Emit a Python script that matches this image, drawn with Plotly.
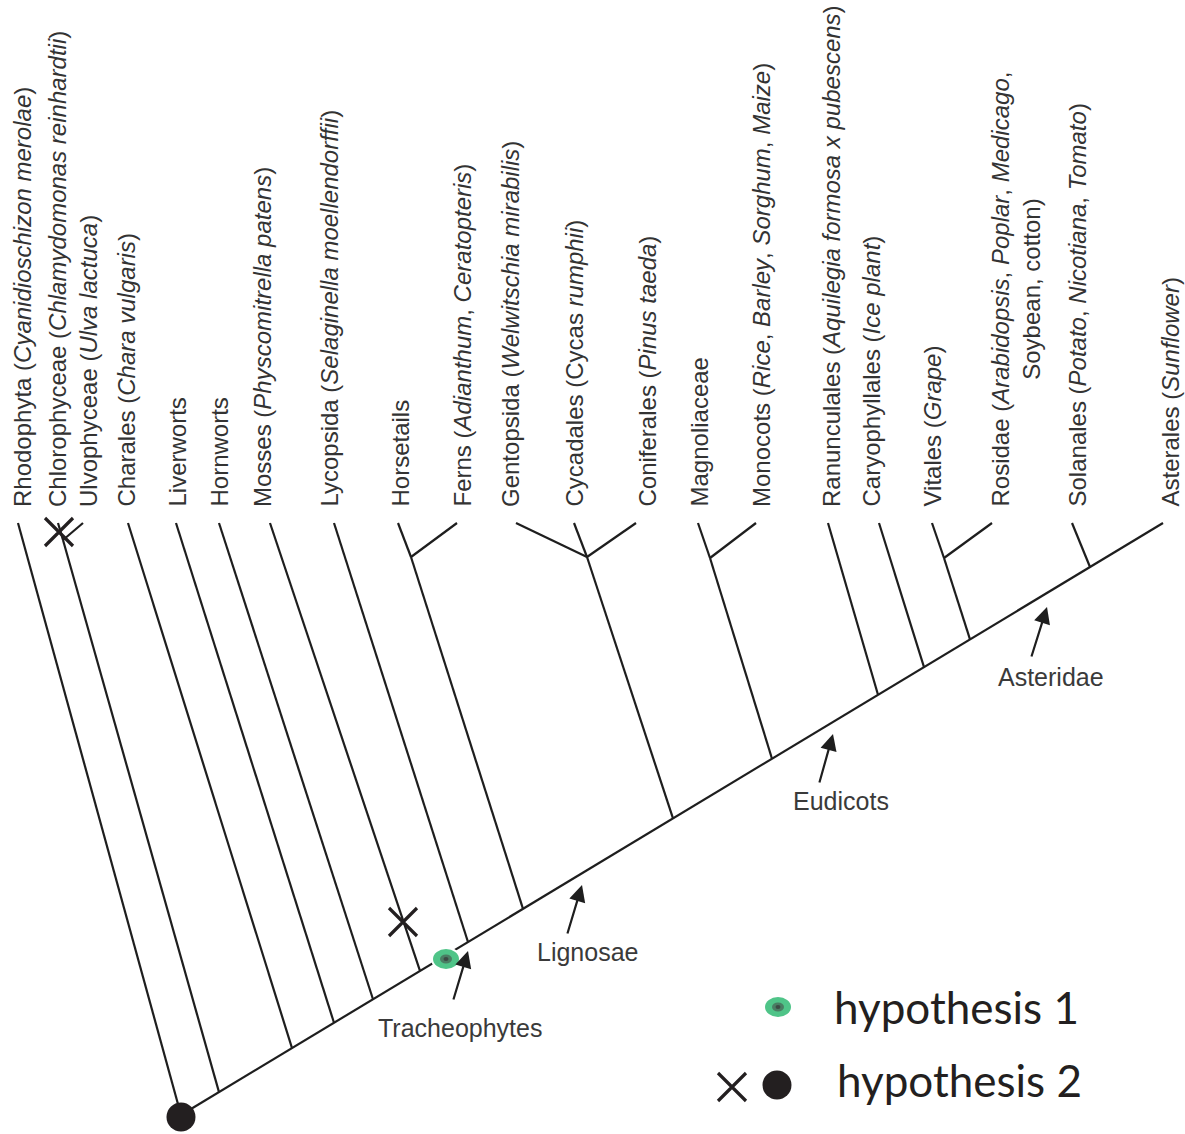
import plotly.graph_objects as go
import numpy as np

W, H = 1185, 1134

# ---------------- data ----------------
taxa_labels = [
    "Rhodophyta (<i>Cyanidioschizon merolae</i>)",
    "Chlorophyceae (<i>Chlamydomonas reinhardtii</i>)",
    "Ulvophyceae (<i>Ulva lactuca</i>)",
    "Charales (<i>Chara vulgaris</i>)",
    "Liverworts",
    "Hornworts",
    "Mosses (<i>Physcomitrella patens</i>)",
    "Lycopsida (<i>Selaginella moellendorffii</i>)",
    "Horsetails",
    "Ferns (<i>Adianthum</i>, <i>Ceratopteris</i>)",
    "Gentopsida (<i>Welwitschia mirabilis</i>)",
    "Cycadales (Cycas <i>rumphii</i>)",
    "Coniferales (<i>Pinus taeda</i>)",
    "Magnoliaceae",
    "Monocots (<i>Rice</i>, <i>Barley</i>, <i>Sorghum</i>, <i>Maize</i>)",
    "Ranunculales (<i>Aquilegia formosa x pubescens</i>)",
    "Caryophyllales (<i>Ice plant</i>)",
    "Vitales (<i>Grape</i>)",
    "Rosidae (<i>Arabidopsis</i>, <i>Poplar</i>, <i>Medicago</i>,<br>Soybean, cotton)",
    "Solanales (<i>Potato</i>, <i>Nicotiana</i>, <i>Tomato</i>)",
    "Asterales (<i>Sunflower</i>)",
]
label_x = [22, 57, 88, 126, 177, 219, 262, 329, 400, 462, 510, 574, 647,
           699, 761, 831, 871, 932, 1015, 1077, 1170]
label_base_y = 509

# backbone: root -> Asterales tip
backbone_x = [181, 1163]
backbone_y = [1115, 523]
tip_y = 523

# single-taxon branches: tip x and x where they meet the backbone
single_tip_x = [18, 128, 176, 219, 270, 334, 828, 879, 1072]
single_join_x = [181, 292, 334, 373, 420, 468, 878, 924, 1090]

# small clades: internal node, tips, join on backbone
clade_node_x = [63, 411, 587, 710, 944]
clade_node_y = [540, 557, 557, 558, 558]
clade_join_x = [219, 523, 673, 772, 970]
clade_tip_x = [[58, 83], [398, 457], [516, 574, 636], [698, 756], [932, 992]]

# hypothesis markers on the tree
loss_x = [59, 403]
loss_y = [532, 922]
h1_x, h1_y = 446, 959

# clade annotations with arrows
clade_names = ["Tracheophytes", "Lignosae", "Eudicots", "Asteridae"]
arrow_head_x = [468, 582, 833, 1047]
arrow_head_y = [951, 885, 734, 607]
arrow_tail_x = [453, 567, 819, 1031]
arrow_tail_y = [1001, 935, 784, 658]
clade_lab_x = [460, 587, 841, 1051]
clade_lab_y = [1028, 952, 801, 677]

# legend
legend_texts = ["hypothesis 1", "hypothesis 2"]
legend_text_x = [832, 835]
legend_text_y = [1007, 1080]
leg_green_x, leg_green_y = 778, 1007
leg_cross_x, leg_cross_y = 732, 1087
leg_dot_x, leg_dot_y = 777, 1085

LINE = "#1e1e1e"

# ---------------- build ----------------
def bb_y(x):
    return float(np.interp(x, backbone_x, backbone_y))

xs, ys = [], []
def seg(x0, y0, x1, y1):
    xs.extend([x0, x1, None])
    ys.extend([y0, y1, None])

seg(backbone_x[0], backbone_y[0], backbone_x[1], backbone_y[1])
for tx, jx in zip(single_tip_x, single_join_x):
    seg(tx, tip_y, jx, bb_y(jx))
for nx, ny, jx, tips in zip(clade_node_x, clade_node_y, clade_join_x, clade_tip_x):
    seg(nx, ny, jx, bb_y(jx))
    for tx in tips:
        seg(tx, tip_y, nx, ny)

fig = go.Figure()
fig.add_trace(go.Scatter(x=xs, y=ys, mode="lines",
                         line=dict(color=LINE, width=2.2),
                         hoverinfo="skip", showlegend=False))

# root dot (hypothesis 2)
fig.add_trace(go.Scatter(x=[backbone_x[0], leg_dot_x], y=[backbone_y[0] + 2, leg_dot_y],
                         mode="markers",
                         marker=dict(size=29, color="#231f20", line=dict(width=0)),
                         hoverinfo="skip", showlegend=False))
# crosses (hypothesis 2)
fig.add_trace(go.Scatter(x=loss_x + [leg_cross_x], y=loss_y + [leg_cross_y],
                         mode="markers",
                         marker=dict(symbol="x-thin", size=28,
                                     line=dict(width=3.2, color="#231f20")),
                         hoverinfo="skip", showlegend=False))

shapes = []
def ellipse(cx, cy, rx, ry, color):
    shapes.append(dict(type="circle", xref="x", yref="y",
                       x0=cx - rx, x1=cx + rx, y0=cy - ry, y1=cy + ry,
                       fillcolor=color, line=dict(width=0), layer="above"))

# hypothesis 1 dots (tree + legend)
ellipse(h1_x, h1_y, 15, 12, "white")
for cx, cy in [(h1_x, h1_y), (leg_green_x, leg_green_y)]:
    ellipse(cx, cy, 13, 10, "#4fc488")
    ellipse(cx, cy, 6, 4.5, "#4a7d63")
    ellipse(cx, cy, 2.5, 2, "#3b4a44")

annotations = []
for name, lx in zip(taxa_labels, label_x):
    annotations.append(dict(x=lx, y=label_base_y, text=name, textangle=-90,
                            xanchor="center", yanchor="bottom", showarrow=False,
                            align="center",
                            font=dict(family="Liberation Sans, Arial", size=24,
                                      color="#333333")))

for name, hx, hy, tx, ty, lx, ly in zip(clade_names, arrow_head_x, arrow_head_y,
                                         arrow_tail_x, arrow_tail_y,
                                         clade_lab_x, clade_lab_y):
    annotations.append(dict(x=hx, y=hy, ax=tx, ay=ty, xref="x", yref="y",
                            axref="x", ayref="y", text="", showarrow=True,
                            arrowhead=2, arrowsize=1.5, arrowwidth=2.2,
                            arrowcolor="#1e1e1e"))
    annotations.append(dict(x=lx, y=ly, text=name, showarrow=False,
                            xanchor="center", yanchor="middle",
                            font=dict(family="Liberation Sans, Arial", size=25,
                                      color="#3a3a3a")))

for t, lx, ly in zip(legend_texts, legend_text_x, legend_text_y):
    annotations.append(dict(x=lx, y=ly, text=t, showarrow=False,
                            xanchor="left", yanchor="middle",
                            font=dict(family="Lato", size=44, color="#231f20")))

fig.update_layout(
    width=W, height=H,
    margin=dict(l=0, r=0, t=0, b=0),
    paper_bgcolor="white", plot_bgcolor="white",
    xaxis=dict(range=[0, W], visible=False, fixedrange=True),
    yaxis=dict(range=[H, 0], visible=False, fixedrange=True),
    shapes=shapes, annotations=annotations,
    showlegend=False,
)

fig.write_html("out.html", config={"displayModeBar": False},
               post_script="document.body.style.margin='0px';")
